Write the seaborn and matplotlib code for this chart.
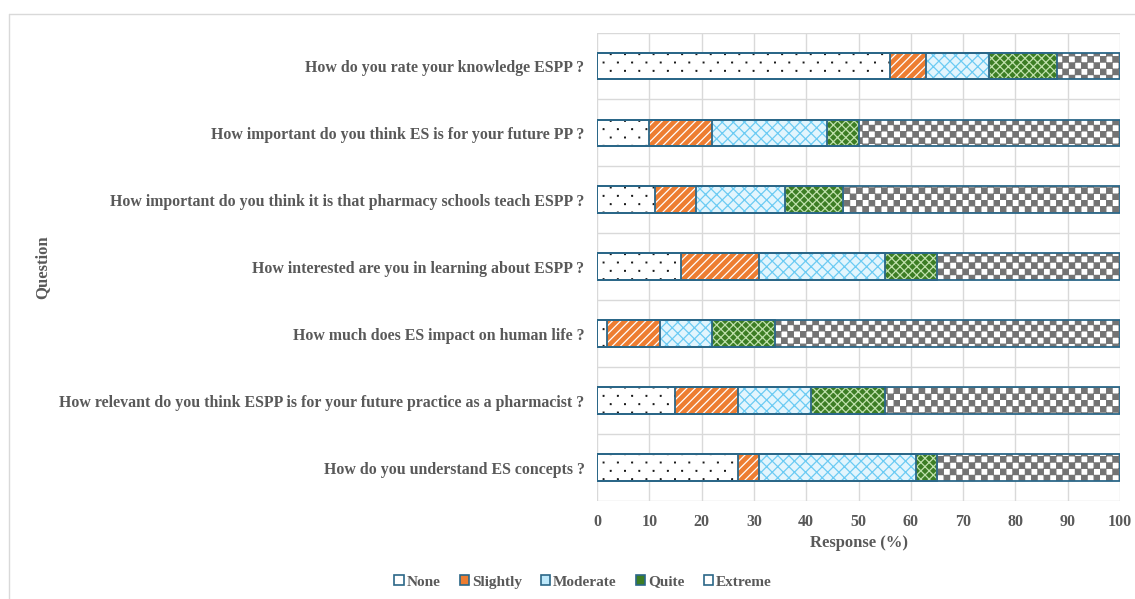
import warnings
warnings.filterwarnings('ignore')
import numpy as np
import pandas as pd
import matplotlib
matplotlib.use('Agg')
import matplotlib.pyplot as plt
import matplotlib.hatch as mhatch
from matplotlib.path import Path
from matplotlib.patches import Patch
from matplotlib.lines import Line2D
import seaborn as sns

# ---------------- data ----------------
questions = [
    "How do you rate your knowledge ESPP ?",
    "How important do you think ES is for your future PP ?",
    "How important do you think it is that pharmacy schools teach ESPP ?",
    "How interested are you in learning about ESPP ?",
    "How much does ES impact on human life ?",
    "How relevant do you think ESPP is for your future practice as a pharmacist ?",
    "How do you understand ES concepts ?",
]
none_pct = [56, 10, 11, 16, 2, 15, 27]
slightly_pct = [7, 12, 8, 15, 10, 12, 4]
moderate_pct = [12, 22, 17, 24, 10, 14, 30]
quite_pct = [13, 6, 11, 10, 12, 14, 4]
extreme_pct = [12, 50, 53, 35, 66, 45, 35]
series_names = ["None", "Slightly", "Moderate", "Quite", "Extreme"]
x_ticks = list(range(0, 101, 10))


# ---------------- custom hatch patterns ----------------
def _square(vertices, codes, k, x0, y0, x1, y1):
    vertices[k:k + 5] = [(x0, y0), (x1, y0), (x1, y1), (x0, y1), (x0, y0)]
    codes[k:k + 5] = [Path.MOVETO, Path.LINETO, Path.LINETO,
                      Path.LINETO, Path.CLOSEPOLY]


class CheckerHatch(mhatch.HatchPatternBase):
    """filled checkerboard, triggered by 'c'"""
    def __init__(self, hatch, density):
        self.n = 16 if 'c' in hatch else 0
        self.cells = [(i, j) for i in range(self.n) for j in range(self.n)
                      if (i + j) % 2 == 0]
        self.num_vertices = len(self.cells) * 5

    def set_vertices_and_codes(self, vertices, codes):
        s = 1.0 / self.n
        e = 0.004
        for k, (i, j) in enumerate(self.cells):
            _square(vertices, codes, 5 * k, i * s + e, j * s + e,
                    (i + 1) * s - e, (j + 1) * s - e)


class SparseDotHatch(mhatch.HatchPatternBase):
    """sparse staggered tiny dots, triggered by 'd'"""
    def __init__(self, hatch, density):
        self.rows, self.cols = (12, 7) if 'd' in hatch else (0, 0)
        self.num_vertices = self.rows * self.cols * 5

    def set_vertices_and_codes(self, vertices, codes):
        h = 0.0035
        k = 0
        for r in range(self.rows):
            y = (r + 0.5) / self.rows
            off = 0.0 if r % 2 == 0 else 0.5 / self.cols
            for c in range(self.cols):
                x = (c + 0.25) / self.cols + off
                _square(vertices, codes, k, x - h, y - h, x + h, y + h)
                k += 5


mhatch._hatch_types.append(CheckerHatch)
mhatch._hatch_types.append(SparseDotHatch)

# ---------------- style ----------------
sns.set_style("white")
plt.rcParams['font.family'] = ['Liberation Serif', 'DejaVu Serif']
plt.rcParams['hatch.linewidth'] = 0.9
TXT = '#595959'
EDGE = '#2B6788'
GRID = '#D9D9D9'

df = pd.DataFrame({
    'Question': questions,
    'None': none_pct, 'Slightly': slightly_pct, 'Moderate': moderate_pct,
    'Quite': quite_pct, 'Extreme': extreme_pct,
})
cum = df[series_names].cumsum(axis=1)

styles = {
    'None':     dict(face='#FFFFFF', hcol='#1A1A1A', hatch='d'),
    'Slightly': dict(face='#ED7D31', hcol='#FFFFFF', hatch='////'),
    'Moderate': dict(face='#E3F5FD', hcol='#6CCBF3', hatch='xxx'),
    'Quite':    dict(face='#3C7D24', hcol='#BFE0AC', hatch='xxxx'),
    'Extreme':  dict(face='#FFFFFF', hcol='#737373', hatch='c'),
}

fig = plt.figure(figsize=(11.35, 5.99), dpi=100)
ax = fig.add_axes([597 / 1135, 1 - 501 / 599, (1120 - 597) / 1135, (501 - 32.5) / 599])

BAR_W = 0.4
# back-to-front cumulative stacking
for name in reversed(series_names):
    st = styles[name]
    sns.barplot(x=cum[name], y=df['Question'], orient='h', color=st['face'],
                saturation=1, edgecolor=st['hcol'], linewidth=0,
                hatch=st['hatch'], width=BAR_W, errorbar=None, ax=ax)
for name in reversed(series_names):
    sns.barplot(x=cum[name], y=df['Question'], orient='h', fill=False,
                color=EDGE, saturation=1, linewidth=1.3, width=BAR_W,
                errorbar=None, ax=ax)

ax.set_xlim(0, 100)
ax.set_ylim(len(questions) - 0.5, -0.5)
ax.set_xticks(x_ticks)
ax.set_xticklabels([str(t) for t in x_ticks])
ax.set_yticks(np.arange(-0.5, len(questions) + 0.5, 1), minor=True)
ax.grid(False)
ax.grid(True, which='major', axis='x', color=GRID, linewidth=1)
ax.grid(True, which='minor', axis='y', color=GRID, linewidth=1)
ax.set_axisbelow(True)
for sp in ax.spines.values():
    sp.set_visible(False)
ax.tick_params(axis='both', which='both', length=0)
ax.tick_params(axis='y', pad=9)
ax.tick_params(axis='x', pad=9)
for lab in ax.get_yticklabels():
    lab.set_fontweight('bold'); lab.set_fontsize(11.4); lab.set_color(TXT)
for lab in ax.get_xticklabels():
    lab.set_fontweight('bold'); lab.set_fontsize(11.5); lab.set_color(TXT)

ax.set_xlabel('Response (%)', fontsize=12, fontweight='bold', color=TXT, labelpad=4)
ax.set_ylabel('')
fig.text(42 / 1135, 1 - 267 / 599, 'Question', rotation=90, ha='center', va='center',
         fontsize=12, fontweight='bold', color=TXT)

# legend
leg_face = {'None': '#FFFFFF', 'Slightly': '#ED7D31', 'Moderate': '#BDE8FA',
            'Quite': '#3C7D24', 'Extreme': '#FFFFFF'}
handles = [Patch(facecolor=leg_face[n], edgecolor=EDGE, linewidth=1.2) for n in series_names]
leg = fig.legend(handles, series_names, loc='center', bbox_to_anchor=(583 / 1135, 1 - 582 / 599),
                 ncol=5, frameon=False, handlelength=0.6, handleheight=0.6,
                 handletextpad=0.2, columnspacing=1.25,
                 prop={'family': 'Liberation Serif', 'weight': 'bold', 'size': 11})
for t in leg.get_texts():
    t.set_color(TXT)

# outer chart-area frame
fig.add_artist(Line2D([9 / 1135, 1.0], [1 - 14 / 599] * 2, color='#D9D9D9', linewidth=1,
                      transform=fig.transFigure))
fig.add_artist(Line2D([9 / 1135] * 2, [0.0, 1 - 14 / 599], color='#D9D9D9', linewidth=1,
                      transform=fig.transFigure))

fig.savefig('out.png', dpi=100)
